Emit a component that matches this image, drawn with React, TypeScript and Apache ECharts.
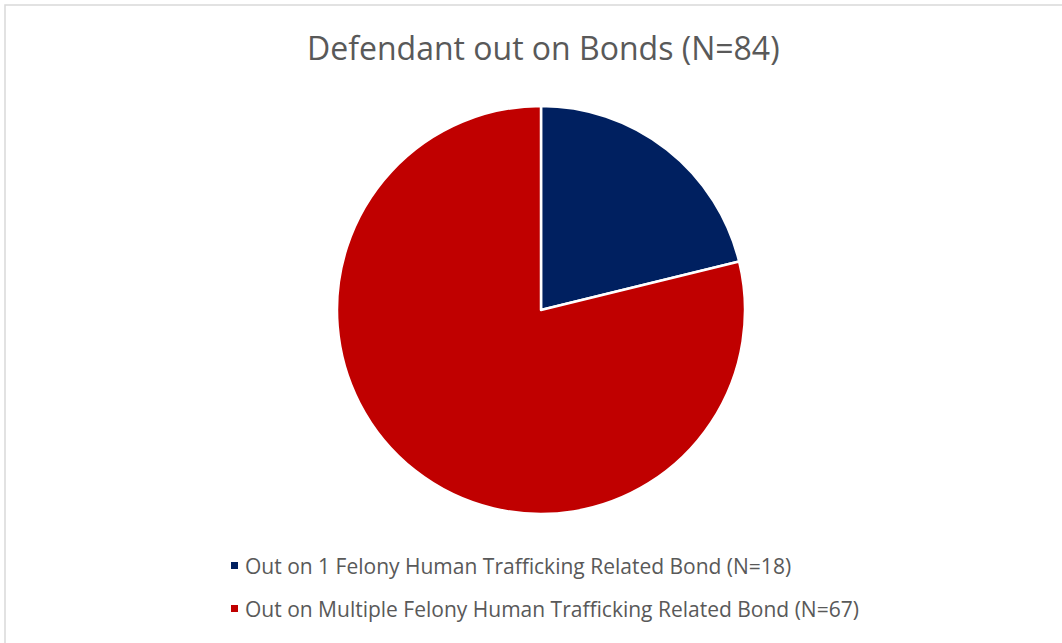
import React, { useEffect, useRef } from "react";
import * as echarts from "echarts";

const categories = [
  "Out on 1 Felony Human Trafficking Related Bond (N=18)",
  "Out on Multiple Felony Human Trafficking Related Bond (N=67)",
];
const values = [18, 67];
const colors = ["#002060", "#C00000"];
const titleText = "Defendant out on Bonds (N=84)";

export default function App() {
  const ref = useRef<HTMLDivElement>(null);
  useEffect(() => {
    document.body.style.margin = "0";
    const chart = echarts.init(ref.current!, null, { renderer: "svg" });
    chart.setOption({
      animation: false,
      backgroundColor: "#ffffff",
      title: {
        text: titleText,
        left: 302,
        top: 26,
        textStyle: {
          fontFamily: "Open Sans",
          fontSize: 32,
          fontWeight: "normal",
          color: "#595959",
        },
      },
      graphic: [
        {
          type: "rect",
          shape: { x: 5, y: 5, width: 1100, height: 700 },
          style: { fill: "none", stroke: "#d9d9d9", lineWidth: 1.5 },
          silent: true,
        },
      ],
      legend: {
        orient: "vertical",
        left: 224,
        top: 550,
        icon: "rect",
        itemWidth: 9,
        itemHeight: 9,
        itemGap: 22,
        textStyle: {
          fontFamily: "Open Sans",
          fontSize: 21,
          color: "#595959",
          padding: [0, 0, 0, 1],
        },
        data: categories,
      },
      series: [
        {
          type: "pie",
          center: [541, 310],
          radius: 204,
          startAngle: 90,
          clockwise: true,
          label: { show: false },
          labelLine: { show: false },
          itemStyle: { borderColor: "#ffffff", borderWidth: 2.5 },
          emphasis: { disabled: true },
          data: categories.map((name, i) => ({
            name,
            value: values[i],
            itemStyle: { color: colors[i] },
          })),
        },
      ],
    });
    return () => chart.dispose();
  }, []);
  return <div ref={ref} style={{ width: 1062, height: 643 }} />;
}
